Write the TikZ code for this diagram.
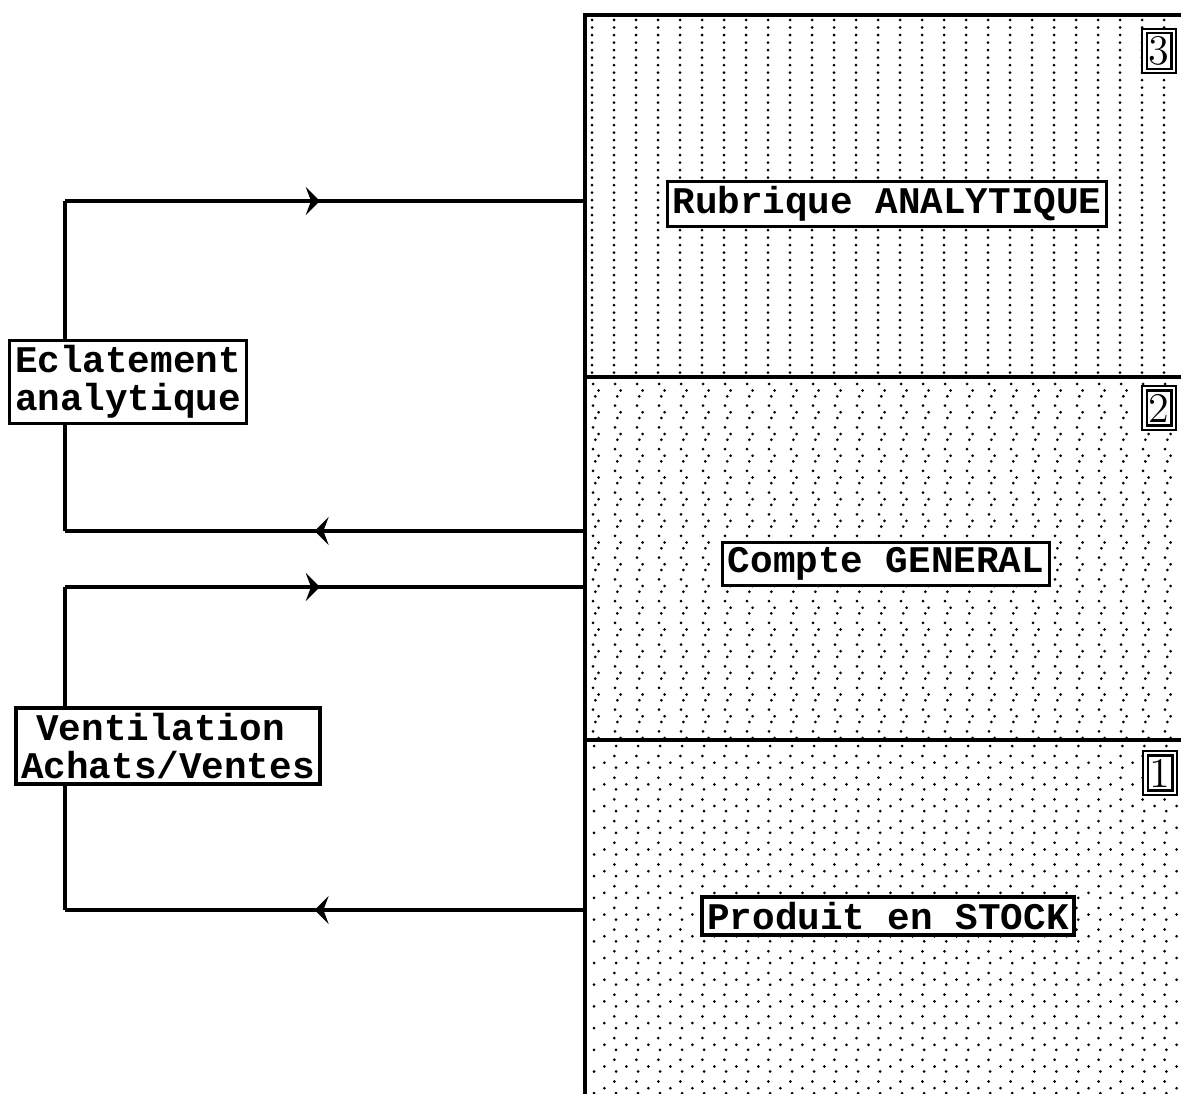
\documentclass[tikz,border=0pt]{standalone}
\usepackage{fontspec}
\setmonofont{Liberation Mono}
\usetikzlibrary{arrows.meta,decorations.markings,positioning,calc}
\tikzset{
  lbl/.style={draw,fill=white,line width=0.95pt,inner sep=1.5pt,font=\ttfamily\bfseries\fontsize{10.7}{10.8}\selectfont},
  numbox/.style={draw,double,double distance=0.6pt,line width=0.6pt,fill=white,inner xsep=1.2pt,inner ysep=1.6pt,font=\rmfamily\fontsize{12}{12}\selectfont},
  wire/.style={line width=1pt},
  flow/.style={wire,postaction={decorate},decoration={markings,mark=at position #1 with {\arrow{Stealth[length=4pt,width=8pt,inset=1.5pt]}}}},
  sep/.style={line width=1.3pt},
  tdot/.style={line width=0.03cm,line cap=round,dash=on 0pt off 0.075cm phase 0cm},
  mdot/.style={line width=0.03cm,line cap=round,dash=on 0pt off 0.217cm phase #1},
  bdot/.style={line width=0.03cm,line cap=round,dash=on 0pt off 0.22cm phase #1},
}
\begin{document}
\begin{tikzpicture}[x=0.01cm,y=-0.01cm]
\useasboundingbox (0,0) rectangle (1181,1094);
% panel corners
\coordinate (pt) at (585,15);
\coordinate (pb) at (585,1094);
\coordinate (s3) at (585,377);
\coordinate (s2) at (585,740);
% dot screens
\begin{scope}
\clip (585,15) rectangle (1181,377);
\foreach \i in {0,...,26}
  \draw[tdot] (592+22*\i,20) -- (592+22*\i,377);
\end{scope}
\begin{scope}
\clip (585,377) rectangle (1181,740);
\foreach \i in {0,...,26} {
  \draw[mdot=0cm] (593+22*\i,384) -- (593+22*\i,740);
  \draw[mdot=0.151cm] (598.6+22*\i,384) -- (598.6+22*\i,740);
  \draw[mdot=0.094cm] (595.3+22*\i,384) -- (595.3+22*\i,740);
}
\end{scope}
\begin{scope}
\clip (585,740) rectangle (1181,1094);
\foreach \j in {0,...,16} {
  \draw[bdot=0cm] (594,746+21.7*\j) -- (1181,746+21.7*\j);
  \draw[bdot=0.017cm] (594,756+21.7*\j) -- (1181,756+21.7*\j);
  \draw[bdot=0.117cm] (594,762.7+21.7*\j) -- (1181,762.7+21.7*\j);
}
\end{scope}
% panel frame
\draw[sep] (pb) -- (pt) -- (1181,15);
\draw[sep] (s3) -- (1181,377);
\draw[sep] (s2) -- (1181,740);
% labels
\node[lbl] (rub) at (887,204) {Rubrique ANALYTIQUE};
\node[lbl] (gen) at (886,564) {Compte GENERAL};
\node[lbl] (sto) at (888,916) {Produit en STOCK};
\node[numbox] (n3) at (1159,51) {3};
\node[numbox] (n2) at (1159,408) {2};
\node[numbox] (n1) at (1160,773) {1};
\node[lbl,align=left] (ecl) at (128,382) {Eclatement\\analytique};
\node[lbl,align=left] (ven) at (168,746) {\hspace{0.4em}Ventilation\\Achats/Ventes};
% connectors
\coordinate (k1) at (65,201);
\coordinate (k2) at (65,531);
\coordinate (k3) at (65,587);
\coordinate (k4) at (65,910);
\coordinate (a3) at (585,201);
\coordinate (a2) at (585,531);
\coordinate (b2) at (585,587);
\coordinate (a1) at (585,910);
\draw[wire] (ecl.north -| k1) -- (k1);
\draw[flow=0.49] (k1) -- (a3);
\draw[flow=0.52] (a2) -- (k2);
\draw[wire] (k2) -- (ecl.south -| k2);
\draw[wire] (ven.north -| k3) -- (k3);
\draw[flow=0.49] (k3) -- (b2);
\draw[flow=0.52] (a1) -- (k4);
\draw[wire] (k4) -- (ven.south -| k4);
\end{tikzpicture}
\end{document}
